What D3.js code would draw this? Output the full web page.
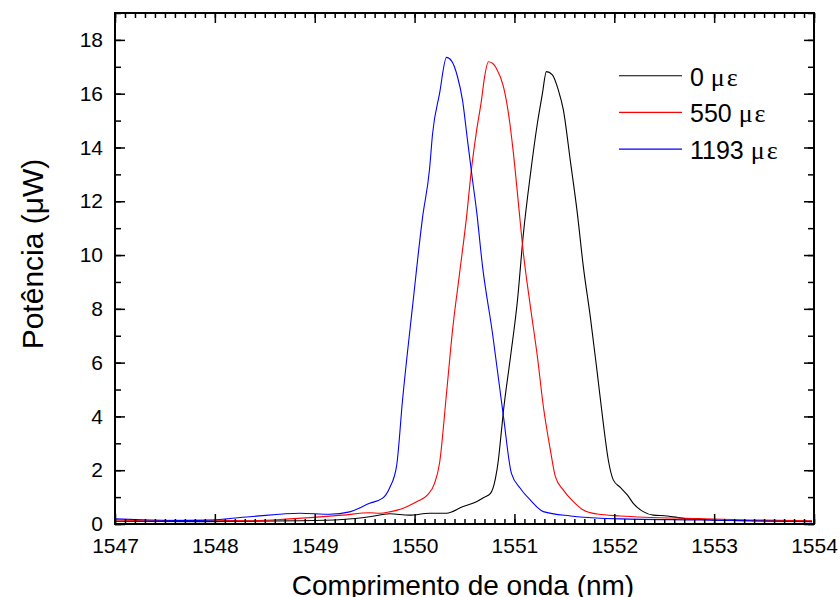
<!DOCTYPE html>
<html>
<head>
<meta charset="utf-8">
<script src="https://cdn.jsdelivr.net/npm/d3@7"></script>
<style>
  body { margin: 0; background: #fff; }
  svg text { font-family: "Liberation Sans", Arial, sans-serif; fill: #000; }
</style>
</head>
<body>
<svg id="chart" width="840" height="597"></svg>
<script>
// wavelength (nm) / power (uW)
var wl0 = [1547.00,1547.85,1548.85,1549.28,1549.55,1549.75,1549.95,1550.15,1550.32,1550.48,1550.62,1550.70,1550.76,1550.81,1550.84,1550.86,1550.89,1550.96,1551.03,1551.09,1551.16,1551.23,1551.28,1551.32,1551.38,1551.44,1551.49,1551.56,1551.63,1551.69,1551.76,1551.83,1551.89,1551.94,1551.99,1552.06,1552.13,1552.19,1552.29,1552.39,1552.53,1552.69,1552.86,1553.36,1553.98];
var p0  = [0.10,0.09,0.12,0.17,0.27,0.38,0.33,0.40,0.40,0.64,0.83,1.00,1.14,1.70,2.40,3.10,4.20,6.20,8.30,10.8,13.0,14.9,16.0,16.82,16.70,16.13,15.4,13.5,11.55,9.57,7.70,5.60,3.74,2.38,1.64,1.36,1.08,0.77,0.46,0.33,0.30,0.21,0.17,0.12,0.10];

var wl550 = [1547.00,1547.35,1547.85,1548.35,1548.75,1549.28,1549.55,1549.65,1549.75,1549.88,1550.02,1550.13,1550.20,1550.25,1550.32,1550.38,1550.45,1550.52,1550.57,1550.62,1550.67,1550.70,1550.74,1550.78,1550.82,1550.89,1550.94,1550.99,1551.04,1551.09,1551.16,1551.23,1551.29,1551.36,1551.41,1551.49,1551.59,1551.69,1551.83,1552.06,1552.86,1553.36,1553.98];
var p550  = [0.15,0.12,0.15,0.12,0.19,0.33,0.42,0.40,0.45,0.58,0.83,1.08,1.51,2.26,4.86,7.20,9.30,11.4,13.2,14.6,15.76,16.6,17.19,17.13,16.94,16.26,15.27,13.78,11.92,10.06,8.08,6.22,4.36,2.75,1.76,1.26,0.83,0.52,0.37,0.30,0.20,0.15,0.12];

var wl1193 = [1547.00,1547.35,1547.85,1548.35,1548.85,1549.15,1549.35,1549.55,1549.68,1549.75,1549.82,1549.88,1549.98,1550.08,1550.15,1550.18,1550.25,1550.32,1550.37,1550.43,1550.48,1550.53,1550.58,1550.62,1550.68,1550.78,1550.89,1550.97,1551.06,1551.16,1551.29,1551.56,1552.06,1552.86,1553.98];
var p1193  = [0.19,0.15,0.13,0.27,0.40,0.36,0.45,0.77,0.96,1.34,2.16,4.63,8.10,11.4,13.2,14.5,16.0,17.35,17.22,16.63,15.76,14.27,12.8,11.67,9.60,7.10,4.00,1.88,1.32,0.89,0.46,0.30,0.19,0.15,0.08];

var seriesNames = ["0", "550", "1193"];
var seriesColors = ["#000000", "#ff0000", "#0000ff"];
var xTicks = [1547, 1548, 1549, 1550, 1551, 1552, 1553, 1554];
var yTicks = [0, 2, 4, 6, 8, 10, 12, 14, 16, 18];

var series = [
  { name: seriesNames[0], color: seriesColors[0], x: wl0, y: p0 },
  { name: seriesNames[1], color: seriesColors[1], x: wl550, y: p550 },
  { name: seriesNames[2], color: seriesColors[2], x: wl1193, y: p1193 }
];

var svg = d3.select("#chart");
var pLeft = 115, pRight = 814, pTop = 13, pBottom = 524;

var x = d3.scaleLinear().domain([1547, 1554]).range([pLeft, pRight]);
var y = d3.scaleLinear().domain([0, 19]).range([pBottom, pTop]);

var xMinor = d3.range(0, 71).map(function(i) { return 1547 + i / 10; });
var yMinor = d3.range(0, 20);

// curves
svg.append("clipPath").attr("id", "clip")
  .append("rect").attr("x", pLeft).attr("y", pTop).attr("width", pRight - pLeft).attr("height", pBottom - pTop);

var line = d3.line()
  .curve(d3.curveMonotoneX)
  .x(function(d) { return x(d[0]); })
  .y(function(d) { return y(d[1]); });

svg.append("g").attr("clip-path", "url(#clip)")
  .selectAll("path")
  .data(series)
  .enter()
  .append("path")
  .attr("d", function(s) { return line(s.x.map(function(v, i) { return [v, s.y[i]]; })); })
  .attr("fill", "none")
  .attr("stroke", function(s) { return s.color; })
  .attr("stroke-width", 1.1)
  .attr("stroke-linejoin", "round");

// axes (ticks point inward)
function styleAxis(g) {
  g.select(".domain").remove();
  g.selectAll(".tick line").attr("stroke", "#000").attr("stroke-width", 1.5);
  g.selectAll(".tick text").style("font-size", "21px").attr("fill", "#000");
}

svg.append("g").attr("transform", "translate(0," + pBottom + ")")
  .call(d3.axisBottom(x).tickValues(xMinor).tickSize(-5).tickFormat("")).call(styleAxis);
svg.append("g").attr("transform", "translate(0," + pBottom + ")")
  .call(d3.axisBottom(x).tickValues(xTicks).tickSize(-10).tickPadding(14).tickFormat(d3.format("d"))).call(styleAxis);
svg.append("g").attr("transform", "translate(0," + pTop + ")")
  .call(d3.axisTop(x).tickValues(xMinor).tickSize(-5).tickFormat("")).call(styleAxis);
svg.append("g").attr("transform", "translate(0," + pTop + ")")
  .call(d3.axisTop(x).tickValues(xTicks).tickSize(-10).tickFormat("")).call(styleAxis);

svg.append("g").attr("transform", "translate(" + pLeft + ",0)")
  .call(d3.axisLeft(y).tickValues(yMinor).tickSize(-6).tickFormat("")).call(styleAxis);
svg.append("g").attr("transform", "translate(" + pLeft + ",0)")
  .call(d3.axisLeft(y).tickValues(yTicks).tickSize(-10).tickPadding(12).tickFormat(d3.format("d"))).call(styleAxis);
svg.append("g").attr("transform", "translate(" + pRight + ",0)")
  .call(d3.axisRight(y).tickValues(yMinor).tickSize(-6).tickFormat("")).call(styleAxis);
svg.append("g").attr("transform", "translate(" + pRight + ",0)")
  .call(d3.axisRight(y).tickValues(yTicks).tickSize(-10).tickFormat("")).call(styleAxis);

svg.append("rect")
  .attr("x", pLeft).attr("y", pTop)
  .attr("width", pRight - pLeft).attr("height", pBottom - pTop)
  .attr("fill", "none").attr("stroke", "#000").attr("stroke-width", 2);

// axis titles
svg.append("text")
  .attr("x", 463).attr("y", 595)
  .attr("text-anchor", "middle")
  .style("font-size", "28px")
  .text("Comprimento de onda (nm)");

svg.append("text")
  .attr("transform", "translate(43,254) rotate(-90)")
  .attr("text-anchor", "middle")
  .style("font-size", "30px")
  .text("Potência (μW)");

// legend
var legend = svg.append("g").attr("transform", "translate(619,75.7)");
var rows = legend.selectAll("g")
  .data(series)
  .enter()
  .append("g")
  .attr("transform", function(d, i) { return "translate(0," + (i * 36.7) + ")"; });

rows.append("line")
  .attr("x1", 0).attr("x2", 63)
  .attr("y1", 0).attr("y2", 0)
  .attr("stroke", function(d) { return d.color; })
  .attr("stroke-width", 1.1);

var lt = rows.append("text")
  .attr("x", 71).attr("y", 10)
  .style("font-size", "25px");
lt.append("tspan").text(function(d) { return d.name + " "; });
lt.append("tspan")
  .style("font-family", "'Liberation Serif', 'Times New Roman', serif")
  .style("font-size", "26px")
  .style("letter-spacing", "2px")
  .text("με");
</script>
</body>
</html>
